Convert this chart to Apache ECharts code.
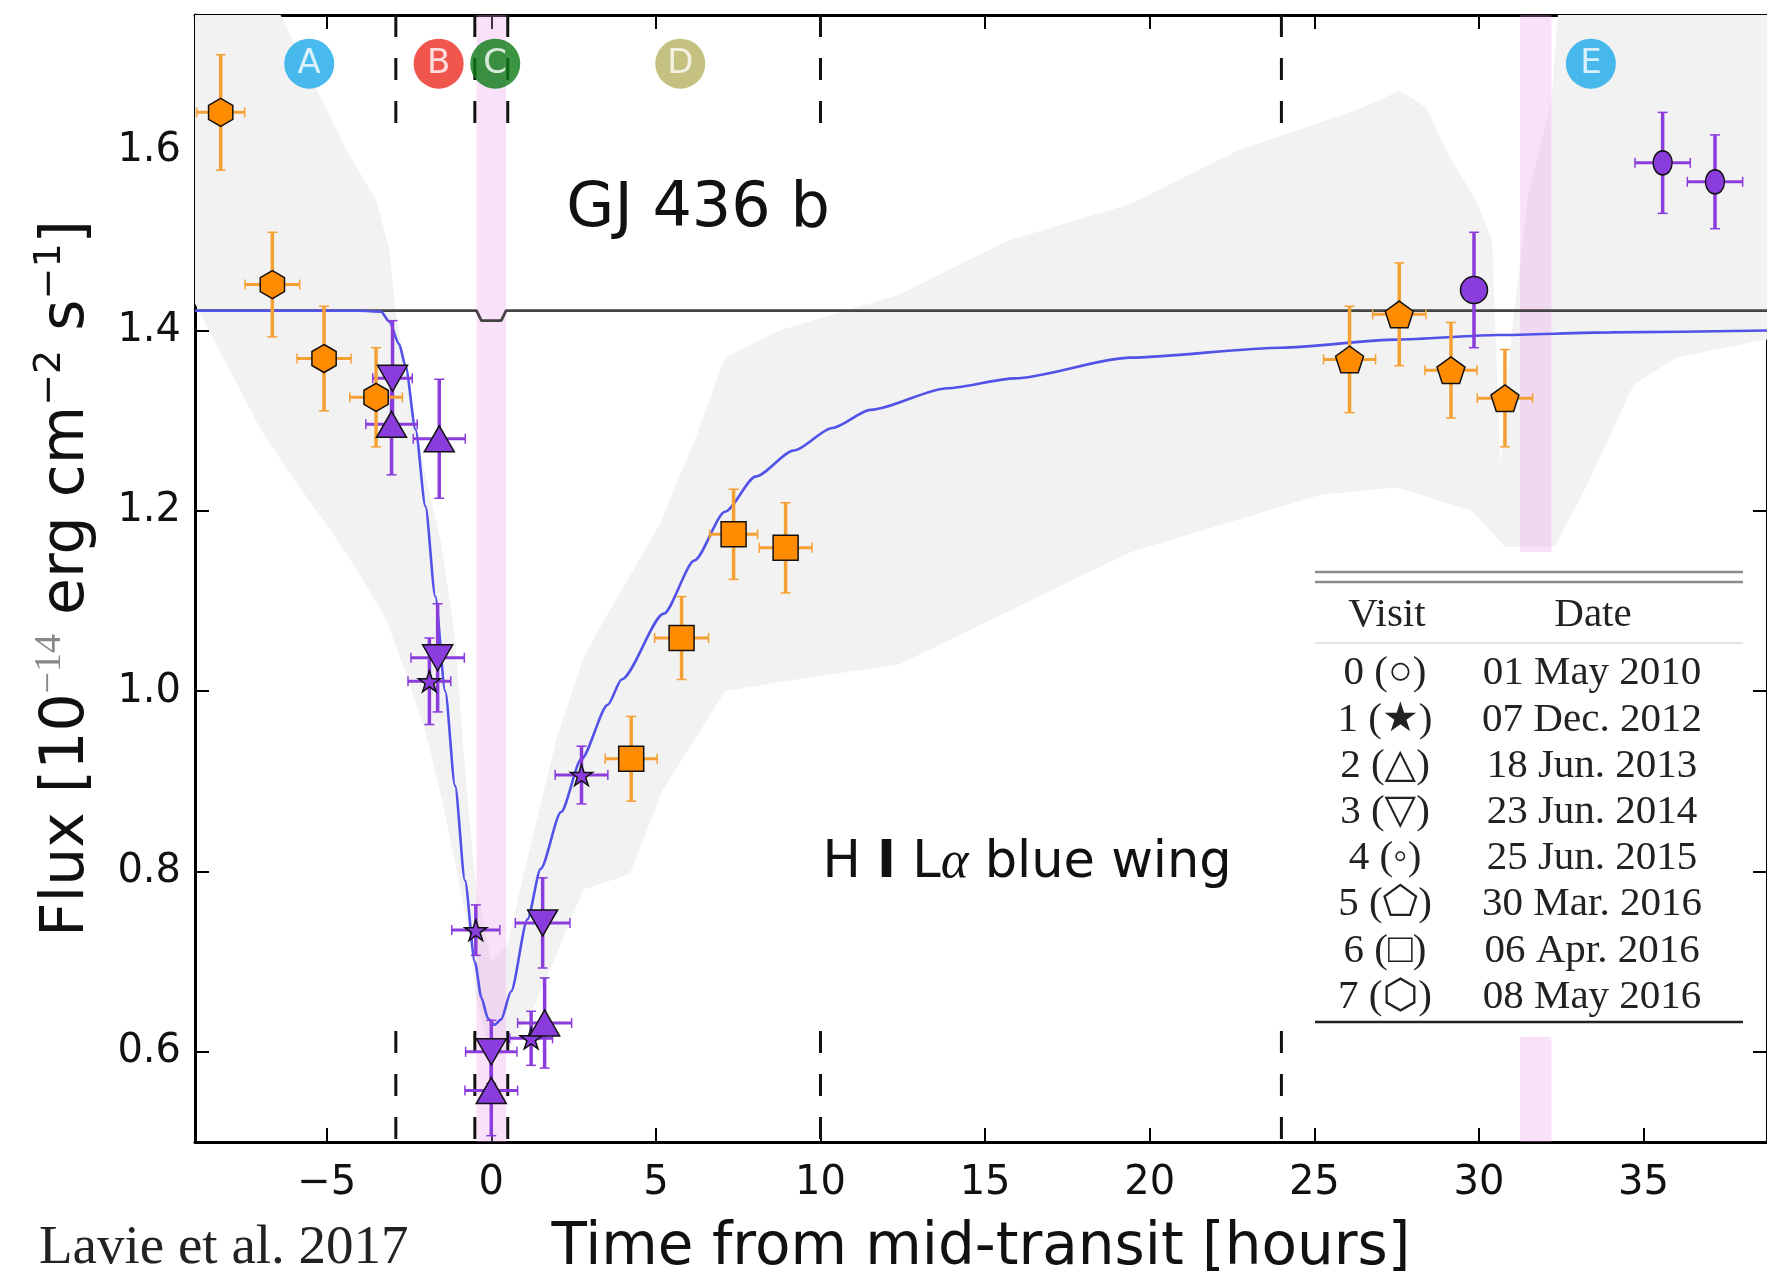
<!DOCTYPE html>
<html><head><meta charset="utf-8">
<script src="https://cdn.jsdelivr.net/npm/echarts@6/dist/echarts.min.js"></script>
<style>html,body{margin:0;padding:0;background:#fff}#c{width:1767px;height:1283px}</style>
</head><body><div id="c"></div>
<script>
// ---------------- data ----------------
const xTicks = [-5, 0, 5, 10, 15, 20, 25, 30, 35];
const yTicks = [0.6, 0.8, 1.0, 1.2, 1.4, 1.6];

// visit 0 (circle, purple)
const v0x = [29.85], v0y = [1.445], v0xe = [0], v0ye = [0.064];
// visit 1 (star, purple)
const v1x = [-1.88, -0.47, 1.21, 2.74], v1y = [1.011, 0.735, 0.615, 0.907], v1xe = [0.65, 0.73, 0.65, 0.8], v1ye = [0.048, 0.028, 0.03, 0.032];
// visit 2 (triangle up, purple)
const v2x = [-3.03, -1.58, 0.0, 1.62], v2y = [1.296, 1.280, 0.557, 0.632], v2xe = [0.78, 0.79, 0.8, 0.82], v2ye = [0.056, 0.066, 0.05, 0.05];
// visit 3 (triangle down, purple)
const v3x = [-3.0, -1.63, 0.0, 1.56], v3y = [1.347, 1.037, 0.600, 0.743], v3xe = [0.6, 0.81, 0.78, 0.83], v3ye = [0.064, 0.06, 0.035, 0.05];
// visit 4 (small circle, purple)
const v4x = [35.58, 37.17], v4y = [1.586, 1.565], v4xe = [0.84, 0.84], v4ye = [0.056, 0.052];
// visit 5 (pentagon, orange)
const v5x = [26.07, 27.58, 29.15, 30.79], v5y = [1.368, 1.418, 1.356, 1.325], v5xe = [0.79, 0.81, 0.79, 0.84], v5ye = [0.059, 0.057, 0.053, 0.054];
// visit 6 (square, orange)
const v6x = [4.25, 5.78, 7.36, 8.94], v6y = [0.925, 1.059, 1.174, 1.159], v6xe = [0.79, 0.82, 0.73, 0.8], v6ye = [0.047, 0.046, 0.05, 0.05];
// visit 7 (hexagon, orange)
const v7x = [-8.22, -6.65, -5.08, -3.5], v7y = [1.642, 1.451, 1.369, 1.326], v7xe = [0.73, 0.83, 0.82, 0.8], v7ye = [0.064, 0.058, 0.058, 0.055];

// model light curve (blue)
const modelX = [-9, -4, -3.35, -3.1, -2.8, -2.6, -2.3, -2.0, -1.7, -1.4, -1.1, -0.8, -0.5, -0.3, -0.1, 0.1, 0.3, 0.6, 1.1, 1.5, 2.12, 2.74, 3.54, 3.96, 5.24, 6.17, 7.1, 8.03, 9.19, 10.36, 11.52, 13.85, 15.9, 19.4, 24.0, 27.5, 30.6, 34, 38.75];
const modelY = [1.422, 1.422, 1.421, 1.41, 1.385, 1.36, 1.29, 1.205, 1.105, 1.0, 0.895, 0.79, 0.70, 0.66, 0.637, 0.63, 0.636, 0.667, 0.747, 0.803, 0.866, 0.925, 0.985, 1.013, 1.086, 1.145, 1.199, 1.238, 1.267, 1.292, 1.312, 1.336, 1.347, 1.37, 1.381, 1.39, 1.395, 1.398, 1.40];

// optical transit line (black)
const optX = [-9, -0.45, -0.3, 0.3, 0.45, 38.75];
const optY = [1.422, 1.422, 1.411, 1.411, 1.422, 1.422];

// dashed phase limits
const dashX = [-2.9, -0.5, 0.5, 10, 24];
const dashTop = [1.622, 1.75];
const dashBottom = [0.5, 0.623];

// pink transit bands
const bandStart = [-0.45, 31.25];
const bandEnd = [0.45, 32.2];

// gray envelope outline
const grayX = [-9, -6.4, -5.2, -4.4, -3.5, -3.1, -2.9, -2.5, -2.0, -1.5, -1.1, -0.9, -0.65, -0.45, 0, 0.5, 1.0, 2.0, 2.8, 3.4, 5.1, 6.2, 7.1, 8.75, 12.4, 15.7, 19.4, 22.7, 26.3, 27.6, 28.4, 29.1, 29.9, 30.4, 30.65, 31.0, 31.5, 32.2, 32.4, 38.75, 38.75, 36, 34.7, 33.3, 32.3, 31.5, 30.8, 29.8, 27.5, 25.2, 19.4, 12.4, 8.7, 7.1, 5.2, 4.2, 2.8, 2.0, 1.3, 0.5, 0, -0.45, -0.72, -1.1, -1.5, -2.0, -2.6, -3.2, -4, -5, -6, -7, -8, -9];
const grayY = [1.75, 1.75, 1.66, 1.60, 1.545, 1.49, 1.42, 1.33, 1.24, 1.16, 1.06, 0.96, 0.85, 0.78, 0.70, 0.72, 0.80, 0.95, 1.037, 1.077, 1.184, 1.28, 1.37, 1.40, 1.44, 1.50, 1.54, 1.60, 1.645, 1.666, 1.647, 1.593, 1.545, 1.50, 1.25, 1.40, 1.55, 1.655, 1.75, 1.75, 1.39, 1.37, 1.34, 1.23, 1.16, 1.16, 1.16, 1.20, 1.226, 1.218, 1.154, 1.03, 1.01, 1.0, 0.89, 0.797, 0.78, 0.71, 0.65, 0.60, 0.59, 0.66, 0.74, 0.81, 0.88, 0.955, 1.02, 1.08, 1.13, 1.185, 1.235, 1.29, 1.36, 1.43];

// phase letters
const letters = ['A', 'B', 'C', 'D', 'E'];
const letterX = [-5.53, -1.6, 0.12, 5.74, 33.4];
const letterY = 1.696;
const letterColors = ['#1aa9ea', '#ec2a22', '#0b7b14', '#b7b262', '#1aa9ea'];

// table
const visitLabels = ['0 (○)', '1 (★)', '2 (△)', '3 (▽)', '4 (◦)', '5 (⬠)', '6 (□)', '7 (⬡)'];
const visitDates = ['01 May 2010', '07 Dec. 2012', '18 Jun. 2013', '23 Jun. 2014', '25 Jun. 2015', '30 Mar. 2016', '06 Apr. 2016', '08 May 2016'];

// ---------------- setup ----------------
const X_MIN = -9, X_MAX = 38.75, Y_MIN = 0.5, Y_MAX = 1.75;
const SANS = "'DejaVu Sans', sans-serif";
const SERIF = "'Liberation Serif', 'DejaVu Serif', serif";
const PURPLE = '#8a3cdc', ORANGE = '#ff8c00', ORANGE_ERR = '#f5a033';

const STAR = 'path://M50,0 L61.2,34.5 L97.6,34.5 L68.2,55.9 L79.4,90.5 L50,69.1 L20.6,90.5 L31.8,55.9 L2.4,34.5 L38.8,34.5 Z';
const PENT = 'path://M50,0 L97.6,34.5 L79.4,90.5 L20.6,90.5 L2.4,34.5 Z';
const HEX = 'path://M50,0 L93.3,25 L93.3,75 L50,100 L6.7,75 L6.7,25 Z';
const TRI_UP = 'path://M50,0 L100,86.6 L0,86.6 Z';
const TRI_DN = 'path://M0,0 L100,0 L50,86.6 Z';

const visits = [
  {x: v0x, y: v0y, xe: v0xe, ye: v0ye, sym: 'circle', size: 27, color: PURPLE, err: PURPLE},
  {x: v1x, y: v1y, xe: v1xe, ye: v1ye, sym: STAR, size: 22, color: PURPLE, err: PURPLE},
  {x: v2x, y: v2y, xe: v2xe, ye: v2ye, sym: TRI_UP, size: 30, color: PURPLE, err: PURPLE},
  {x: v3x, y: v3y, xe: v3xe, ye: v3ye, sym: TRI_DN, size: 30, color: PURPLE, err: PURPLE},
  {x: v4x, y: v4y, xe: v4xe, ye: v4ye, sym: 'circle', size: [19, 24], color: PURPLE, err: PURPLE},
  {x: v5x, y: v5y, xe: v5xe, ye: v5ye, sym: PENT, size: 28, color: ORANGE, err: ORANGE_ERR},
  {x: v6x, y: v6y, xe: v6xe, ye: v6ye, sym: 'rect', size: 25, color: ORANGE, err: ORANGE_ERR},
  {x: v7x, y: v7y, xe: v7xe, ye: v7ye, sym: HEX, size: 28, color: ORANGE, err: ORANGE_ERR}
];

function errRender(color) {
  return function (params, api) {
    const x = api.value(0), y = api.value(1), xe = api.value(2), ye = api.value(3);
    const L = api.coord([x - xe, y]), R = api.coord([x + xe, y]);
    const T = api.coord([x, y + ye]), B = api.coord([x, y - ye]);
    const ch = [];
    const cap = 5;
    if (xe > 0) {
      ch.push({type: 'line', shape: {x1: L[0], y1: L[1], x2: R[0], y2: R[1]}, style: {stroke: color, lineWidth: 3}});
      ch.push({type: 'line', shape: {x1: L[0], y1: L[1] - cap, x2: L[0], y2: L[1] + cap}, style: {stroke: color, lineWidth: 1.5}});
      ch.push({type: 'line', shape: {x1: R[0], y1: R[1] - cap, x2: R[0], y2: R[1] + cap}, style: {stroke: color, lineWidth: 1.5}});
    }
    if (ye > 0) {
      ch.push({type: 'line', shape: {x1: T[0], y1: T[1], x2: B[0], y2: B[1]}, style: {stroke: color, lineWidth: 3.5}});
      ch.push({type: 'line', shape: {x1: T[0] - cap, y1: T[1], x2: T[0] + cap, y2: T[1]}, style: {stroke: color, lineWidth: 1.5}});
      ch.push({type: 'line', shape: {x1: B[0] - cap, y1: B[1], x2: B[0] + cap, y2: B[1]}, style: {stroke: color, lineWidth: 1.5}});
    }
    return {type: 'group', children: ch};
  };
}

const series = [];

// gray envelope
series.push({
  type: 'custom', z: 1, silent: true, clip: true,
  data: [[0, 1]],
  renderItem: function (params, api) {
    const pts = grayX.map((x, i) => api.coord([x, grayY[i]]));
    return {type: 'polygon', shape: {points: pts}, style: {fill: '#f2f2f2'}};
  }
});
// pink bands
series.push({
  type: 'custom', z: 2, silent: true, clip: true,
  data: bandStart.map((s, i) => [s, bandEnd[i]]),
  renderItem: function (params, api) {
    const p0 = api.coord([api.value(0), Y_MAX]);
    const p1 = api.coord([api.value(1), Y_MIN]);
    return {type: 'rect', shape: {x: p0[0], y: p0[1], width: p1[0] - p0[0], height: p1[1] - p0[1]},
      style: {fill: 'rgba(236,160,236,0.30)'}};
  }
});
// optical transit line
series.push({
  type: 'line', z: 3, silent: true, showSymbol: false,
  data: optX.map((x, i) => [x, optY[i]]),
  lineStyle: {color: '#444', width: 2.8}
});
// model
series.push({
  type: 'line', z: 4, silent: true, showSymbol: false, smooth: 0.25, smoothMonotone: 'x',
  data: modelX.map((x, i) => [x, modelY[i]]),
  lineStyle: {color: '#5252e8', width: 2.6}
});
// dashed lines
dashX.forEach(x => {
  [dashTop, dashBottom].forEach(seg => {
    series.push({
      type: 'line', z: 5, silent: true, showSymbol: false,
      data: [[x, seg[1]], [x, seg[0]]],
      lineStyle: {color: '#111', width: 3, type: [22, 21]}
    });
  });
});
// error bars and markers
visits.forEach(v => {
  series.push({
    type: 'custom', z: 6, silent: true, clip: true,
    data: v.x.map((x, i) => [x, v.y[i], v.xe[i], v.ye[i]]),
    renderItem: errRender(v.err)
  });
});
visits.forEach(v => {
  series.push({
    type: 'scatter', z: 7, silent: true, clip: true,
    symbol: v.sym, symbolSize: v.size, symbolKeepAspect: true,
    data: v.x.map((x, i) => [x, v.y[i]]),
    itemStyle: {color: v.color, borderColor: '#111', borderWidth: 1.5, opacity: 1}
  });
});
// phase letters
series.push({
  type: 'scatter', z: 8, silent: true, symbol: 'circle', symbolSize: 50,
  data: letterX.map((x, i) => ({value: [x, letterY], itemStyle: {color: letterColors[i]}})),
  label: {show: true, position: 'inside', formatter: p => letters[p.dataIndex],
    color: '#fff', fontSize: 34, fontFamily: SANS}
});

const fmtX = v => (v < 0 ? '\u2212' + Math.abs(v) : String(v));
const axisLineStyle = {color: '#000', width: 3};
const tickStyle = {color: '#000', width: 2};

const option = {
  animation: false,
  backgroundColor: '#fff',
  grid: {left: 195, right: 0, top: 15, bottom: 133, containLabel: false},
  xAxis: [
    {type: 'value', min: X_MIN, max: X_MAX, position: 'bottom',
      axisLine: {show: true, onZero: false, lineStyle: axisLineStyle},
      axisTick: {show: true, inside: true, length: 14, lineStyle: tickStyle, customValues: xTicks},
      axisLabel: {show: true, customValues: xTicks, formatter: fmtX, fontSize: 40, fontFamily: SANS, color: '#111', margin: 22},
      splitLine: {show: false},
      name: 'Time from mid-transit [hours]', nameLocation: 'middle', nameGap: 78,
      nameTextStyle: {fontSize: 58, fontFamily: SANS, color: '#111'}},
    {type: 'value', min: X_MIN, max: X_MAX, position: 'top',
      axisLine: {show: true, onZero: false, lineStyle: axisLineStyle},
      axisTick: {show: true, inside: true, length: 14, lineStyle: tickStyle, customValues: xTicks},
      axisLabel: {show: false}, splitLine: {show: false}}
  ],
  yAxis: [
    {type: 'value', min: Y_MIN, max: Y_MAX, position: 'left',
      axisLine: {show: true, onZero: false, lineStyle: axisLineStyle},
      axisTick: {show: true, inside: true, length: 14, lineStyle: tickStyle, customValues: yTicks},
      axisLabel: {show: true, customValues: yTicks, formatter: v => v.toFixed(1), fontSize: 40, fontFamily: SANS, color: '#111', margin: 14},
      splitLine: {show: false},
      name: '{n|Flux [10}{m|\u221214}{n| erg cm}{s|\u22122}{n| s}{s|\u22121}{n|]}',
      nameLocation: 'middle', nameRotate: 90, nameGap: 98,
      nameTextStyle: {fontSize: 60, fontFamily: SANS, color: '#111',
        rich: {
          n: {fontSize: 60, fontFamily: SANS, color: '#111', verticalAlign: 'bottom'},
          s: {fontSize: 38, fontFamily: SANS, color: '#111', verticalAlign: 'bottom', padding: [0, 0, 28, 0]},
          m: {fontSize: 38, fontFamily: SERIF, color: '#888', verticalAlign: 'bottom', padding: [0, 0, 28, 0]}
        }}},
    {type: 'value', min: Y_MIN, max: Y_MAX, position: 'right',
      axisLine: {show: true, onZero: false, lineStyle: axisLineStyle},
      axisTick: {show: true, inside: true, length: 14, lineStyle: tickStyle, customValues: yTicks},
      axisLabel: {show: false}, splitLine: {show: false}}
  ],
  series: series
};

const chart = echarts.init(document.getElementById('c'));
chart.setOption(option);

// ---------- annotations placed through the axes ----------
const px = (x, y) => chart.convertToPixel({xAxisIndex: 0, yAxisIndex: 0}, [x, y]);
const gjPos = px(2.28, 1.534);
const lyaPos = px(10.06, 0.809);

const ZT = 100;
const graphics = [];
graphics.push({type: 'text', z: ZT, x: gjPos[0], y: gjPos[1],
  style: {text: 'GJ 436 b', font: "62px 'DejaVu Sans', sans-serif", fill: '#111', align: 'left', verticalAlign: 'middle'}});
graphics.push({type: 'text', z: ZT, x: lyaPos[0], y: lyaPos[1],
  style: {text: '{a|H }{b|I}{a| L}{c|\u03b1}{a| blue wing}', align: 'left', verticalAlign: 'middle',
    rich: {
      a: {fontSize: 51, fontFamily: SANS, fill: '#111', color: '#111'},
      b: {fontSize: 51, fontFamily: SANS, fontWeight: 'bold', fill: '#111', color: '#111'},
      c: {fontSize: 53, fontFamily: SERIF, fontStyle: 'italic', fill: '#111', color: '#111'}
    }}});
graphics.push({type: 'text', z: ZT, x: 39, y: 1249,
  style: {text: 'Lavie et al. 2017', font: "55px 'Liberation Serif', serif", fill: '#222', align: 'left', verticalAlign: 'middle'}});

// table (legend of visits), drawn above the plot
const TFONT = "41px 'Liberation Serif', 'DejaVu Sans', serif";
graphics.push({type: 'rect', z: ZT, shape: {x: 1313, y: 552, width: 432, height: 485}, style: {fill: '#ffffff'}});
graphics.push({type: 'line', z: ZT + 1, shape: {x1: 1315, y1: 572, x2: 1743, y2: 572}, style: {stroke: '#8a8a8a', lineWidth: 2.5}});
graphics.push({type: 'line', z: ZT + 1, shape: {x1: 1315, y1: 582, x2: 1743, y2: 582}, style: {stroke: '#8a8a8a', lineWidth: 2.5}});
graphics.push({type: 'text', z: ZT + 1, x: 1387, y: 615, style: {text: 'Visit', font: TFONT, fill: '#222', align: 'center', verticalAlign: 'middle'}});
graphics.push({type: 'text', z: ZT + 1, x: 1593, y: 615, style: {text: 'Date', font: TFONT, fill: '#222', align: 'center', verticalAlign: 'middle'}});
graphics.push({type: 'line', z: ZT + 1, shape: {x1: 1315, y1: 643, x2: 1743, y2: 643}, style: {stroke: '#c8c8c8', lineWidth: 1.2}});
visitLabels.forEach((t, i) => {
  const yy = 686.7 + 46.2 * i - 13;
  graphics.push({type: 'text', z: ZT + 1, x: 1385, y: yy, style: {text: t, font: TFONT, fill: '#222', align: 'center', verticalAlign: 'middle'}});
  graphics.push({type: 'text', z: ZT + 1, x: 1592, y: yy, style: {text: visitDates[i], font: TFONT, fill: '#222', align: 'center', verticalAlign: 'middle'}});
});
graphics.push({type: 'line', z: ZT + 1, shape: {x1: 1315, y1: 1022, x2: 1743, y2: 1022}, style: {stroke: '#222', lineWidth: 2.5}});

chart.setOption({graphic: graphics});
</script>
</body></html>
